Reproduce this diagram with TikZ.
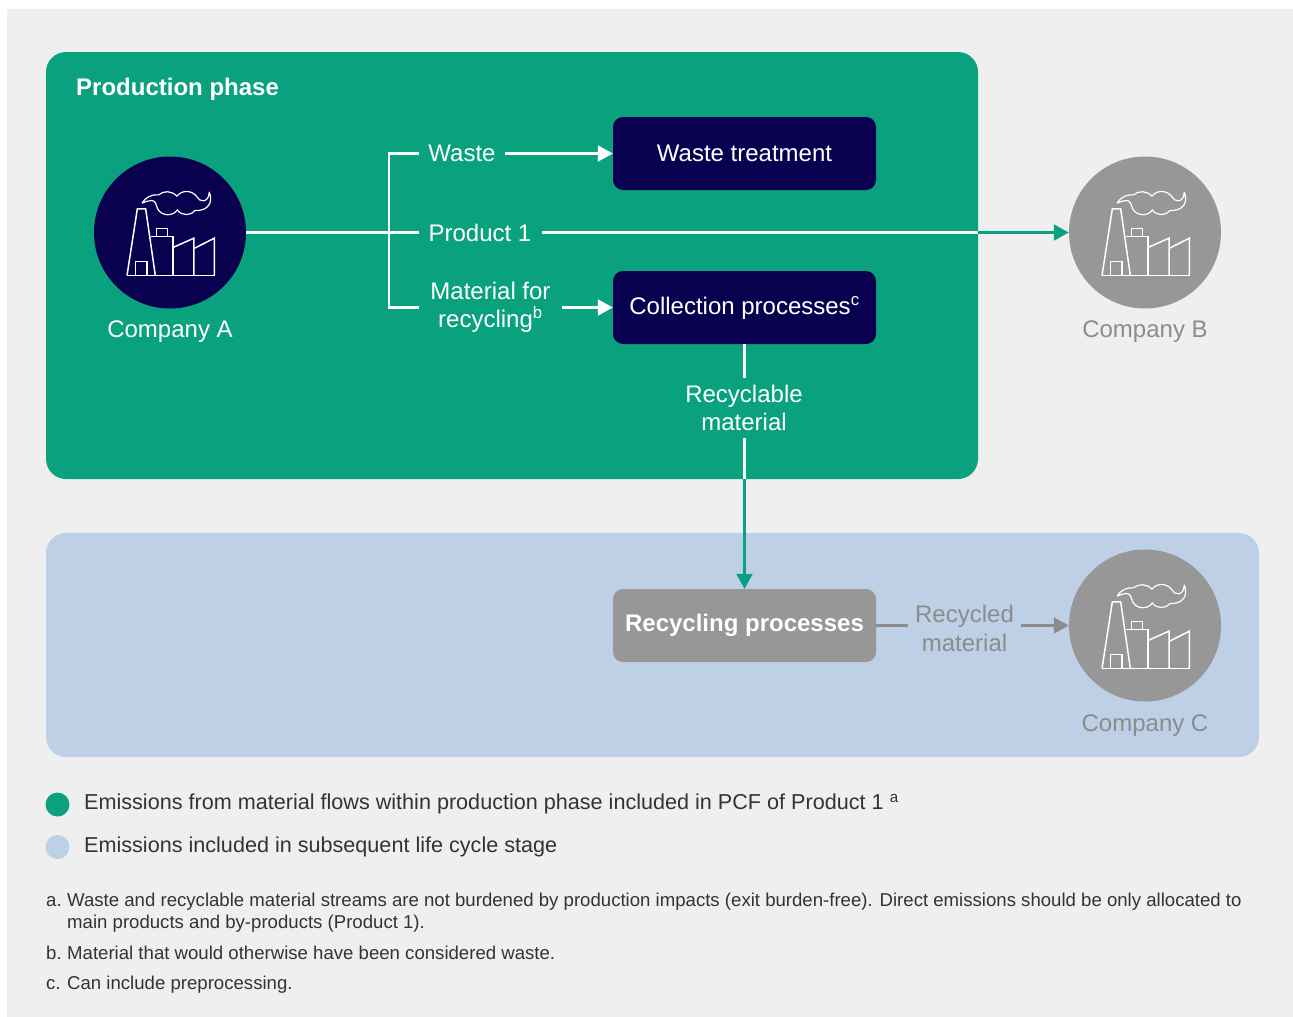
\documentclass[tikz,border=0pt]{standalone}
\usepackage{fontspec}
\setmainfont{Liberation Sans}
\usetikzlibrary{arrows.meta,calc}
\definecolor{pagebg}{HTML}{EFEFEF}
\definecolor{prodgreen}{HTML}{09A17E}
\definecolor{navy}{HTML}{0A0050}
\definecolor{lifeblue}{HTML}{BDD0E5}
\definecolor{midgray}{HTML}{979797}
\definecolor{labelgray}{HTML}{8C8C8C}
\definecolor{inkgray}{HTML}{333333}
\tikzset{
  x=1pt,y=-1pt,
  panel/.style={rounded corners=20pt,draw=none},
  procbox/.style={rounded corners=10pt,minimum width=263pt,minimum height=73pt,inner sep=0pt,text=white,font=\fontsize{24}{28}\selectfont,fill=navy},
  company/.style={circle,minimum size=152pt,inner sep=0pt},
  lab/.style={inner sep=0pt,align=center,font=\fontsize{24}{28}\selectfont,text=white},
  labgray/.style={lab,text=labelgray},
  flow/.style={line width=2.2pt,draw=white},
  arrowtip/.style={-{Triangle[length=15pt,width=16pt]}},
  legendtext/.style={anchor=west,inner sep=0pt,font=\fontsize{21.6}{26}\selectfont,text=inkgray},
  legenddot/.style={circle,minimum size=24pt,inner sep=0pt},
  noteletter/.style={anchor=base west,inner sep=0pt,font=\fontsize{18.6}{22}\selectfont,text=inkgray},
  notetext/.style={noteletter,align=left},
  factoryline/.style={line width=1.5pt,draw=white,line join=miter},
  pics/factory/.style={code={
    \begin{scope}[x=0.3333pt,y=-0.3333pt,shift={(-270,-276)}]
      \draw[factoryline] (141,405) -- (172,205) -- (197,205) -- (226,405);
      \draw[factoryline] (141,405) -- (404,405);
      \draw[factoryline] (167,405) -- (167,363) -- (201,363) -- (201,405);
      \draw[factoryline] (212,288) -- (279,288) -- (279,405);
      \draw[factoryline] (230,288) -- (230,264) -- (262,264) -- (262,288);
      \draw[factoryline] (281,320) -- (342,293) -- (342,405);
      \draw[factoryline] (344,323) -- (403,293) -- (403,405);
      \draw[line width=1.2pt,draw=white,line join=round] (186,188)
        .. controls (195,172) and (215,160) .. (236,163)
        .. controls (250,150) and (275,150) .. (291,167)
        .. controls (305,148) and (335,148) .. (350,168)
        .. controls (358,185) and (385,190) .. (388,155)
        .. controls (400,185) and (385,212) .. (345,210)
        .. controls (335,225) and (305,228) .. (292,208)
        .. controls (280,228) and (245,228) .. (233,205)
        .. controls (228,195) and (228,180) .. (215,180)
        .. controls (205,180) and (195,184) .. (186,188);
    \end{scope}
  }}
}
\begin{document}
\begin{tikzpicture}
\useasboundingbox (0,0) rectangle (1293,1017);
\fill[white] (0,0) rectangle (1293,1017);
\fill[pagebg] (7,9) rectangle (1293,1017);
\fill[prodgreen,panel] (46,52) rectangle (978,479);
\fill[lifeblue,panel] (46,533) rectangle (1259,757);

\node[anchor=west,inner sep=0pt,text=white,font=\bfseries\fontsize{24}{28}\selectfont] (title) at (76,89) {Production phase};

% companies
\node[company,fill=navy] (compA) at (170,232.5) {};
\node[company,fill=midgray] (compB) at (1145,232.5) {};
\node[company,fill=midgray] (compC) at (1145,625.5) {};
\pic at (compA.center) {factory};
\pic at (compB.center) {factory};
\pic at (compC.center) {factory};
\node[lab] (labA) at (170,332) {Company A};
\node[labgray] (labB) at (1145,332) {Company B};
\node[labgray] (labC) at (1145,726) {Company C};

% process boxes
\node[procbox] (waste) at (744.5,153.5) {Waste treatment};
\node[procbox] (collect) at (744.5,307.5) {Collection processes\textsuperscript{c}};
\node[procbox,fill=midgray,font=\bfseries\fontsize{24}{28}\selectfont] (recycle) at (744.5,625.5) {Recycling processes};

% flow labels
\node[lab] (lwaste) at (462,153.5) {Waste};
\node[lab] (lprod) at (480,232.5) {Product 1};
\node[lab] (lmat) at (490.5,307.5) {Material for\\[-0.5pt]recycling\textsuperscript{b}};
\node[lab] (lrecy) at (744,408) {Recyclable\\[-0.5pt]material};
\node[labgray] (lrecd) at (964.5,628.5) {Recycled\\[1pt]material};

\coordinate (jct) at (389,232.5);
\coordinate (jtop) at (389,153.5);
\coordinate (jbot) at (389,307.5);
\coordinate (wasteIn) at (419,153.5);
\coordinate (prodIn) at (419,232.5);
\coordinate (matIn) at (419,307.5);
\coordinate (wasteOut) at (505,153.5);
\coordinate (prodOut) at (542,232.5);
\coordinate (matOut) at (562,307.5);
\coordinate (edgeR) at (978,232.5);
\coordinate (recyIn) at (744.5,378);
\coordinate (recyOut) at (744.5,438);
\coordinate (edgeB) at (744.5,479);
\coordinate (recdIn) at (908,625.5);
\coordinate (recdOut) at (1021,625.5);

\draw[flow] (compA.east) -- (prodIn);
\draw[flow,line cap=butt] (wasteIn) -- (jtop) -- (jbot) -- (matIn);
\draw[flow,arrowtip] (wasteOut) -- (waste.west);
\draw[flow,arrowtip] (matOut) -- (collect.west);
\draw[flow] (prodOut) -- (edgeR);
\draw[flow,draw=prodgreen,arrowtip] (edgeR) -- (compB.west);
\draw[flow] (collect.south) -- (recyIn);
\draw[flow] (recyOut) -- (edgeB);
\draw[flow,draw=prodgreen,arrowtip] (edgeB) -- (recycle.north);
\draw[flow,draw=labelgray] (recycle.east) -- (recdIn);
\draw[flow,draw=labelgray,arrowtip] (recdOut) -- (compC.west);

% legend
\node[legenddot,fill=prodgreen] (dotG) at (57.5,804.5) {};
\node[legenddot,fill=lifeblue] (dotB) at (57.5,847) {};
\node[legendtext] (legG) at (84,804) {Emissions from material flows within production phase included in PCF of Product 1 \textsuperscript{a}};
\node[legendtext] (legB) at (84,847) {Emissions included in subsequent life cycle stage};

% notes
\node[noteletter] (na) at (46,906) {a.};
\node[notetext] (nat) at (67,906) {Waste and recyclable material streams are not burdened by production impacts (exit burden-free). Direct emissions should be only allocated to};
\node[notetext] (nat2) at (67,928) {main products and by-products (Product 1).};
\node[noteletter] (nb) at (46,959) {b.};
\node[notetext] (nbt) at (67,959) {Material that would otherwise have been considered waste.};
\node[noteletter] (nc) at (46,989) {c.};
\node[notetext] (nct) at (67,989) {Can include preprocessing.};
\end{tikzpicture}
\end{document}
